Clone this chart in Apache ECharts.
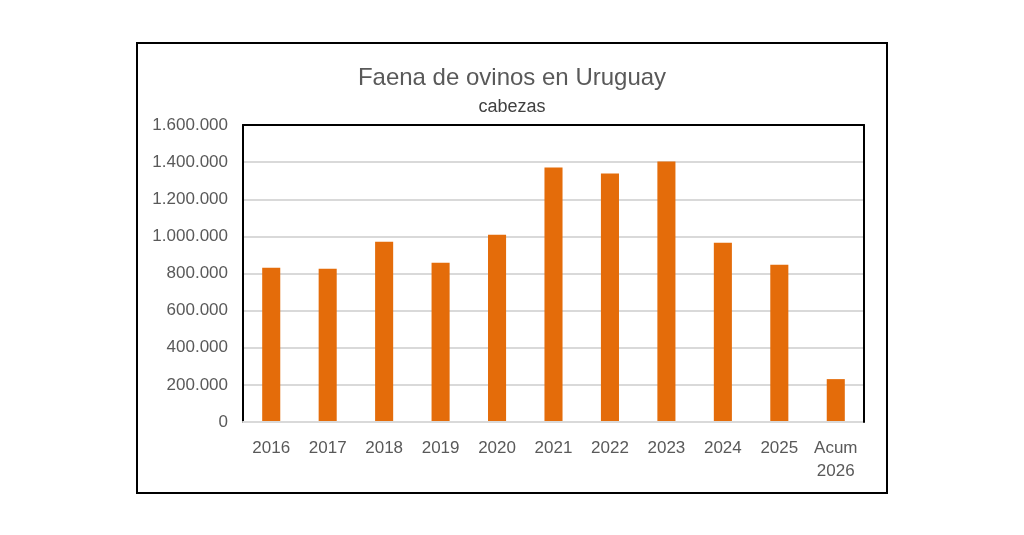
<!DOCTYPE html>
<html>
<head>
<meta charset="utf-8">
<title>Faena de ovinos en Uruguay</title>
<script src="https://cdn.jsdelivr.net/npm/echarts@6/dist/echarts.min.js"></script>
<style>
    html,body{margin:0;padding:0;background:#fff;}
    #main{width:1024px;height:535px;}
</style>
</head>
<body>
<div id="main"></div>
<script>
//年份
var categories = ['2016','2017','2018','2019','2020','2021','2022','2023','2024','2025','Acum\n2026'];
//头数
var cabezas = [831000, 825000, 971000, 858000, 1009000, 1371000, 1339000, 1404000, 966000, 847000, 231000];
var yTicks = [0, 200000, 400000, 600000, 800000, 1000000, 1200000, 1400000, 1600000];

//千位用点分隔
function fmtNum(v){
    return String(v).replace(/\B(?=(\d{3})+(?!\d))/g, '.');
}

var myChart = echarts.init(document.getElementById('main'));

var option = {
    backgroundColor: '#fff',
    animation: false,
    title: {
        text: 'Faena de ovinos en Uruguay',
        subtext: 'cabezas',
        left: 'center',
        top: 61,
        itemGap: 8,
        textStyle: {
            fontFamily: 'Liberation Sans',
            fontSize: 24,
            fontWeight: 'normal',
            color: '#595959'
        },
        subtextStyle: {
            fontFamily: 'Liberation Sans',
            fontSize: 18,
            color: '#404040'
        }
    },
    graphic: [{
        type: 'rect',
        shape: {x: 137, y: 43, width: 750, height: 450},
        style: {fill: 'none', stroke: '#000', lineWidth: 2},
        silent: true
    }],
    grid: {
        left: 243,
        right: 160,
        top: 125,
        bottom: 113
    },
    xAxis: [{
        type: 'category',
        data: categories,
        z: 3,
        axisTick: {show: false},
        axisLine: {show: true, lineStyle: {color: '#d9d9d9', width: 2}},
        axisLabel: {
            margin: 15,
            fontFamily: 'Liberation Sans',
            fontSize: 17,
            lineHeight: 23,
            color: '#595959',
            interval: 0
        }
    },{
        //上边框
        type: 'category',
        position: 'top',
        data: categories,
        z: 5,
        axisTick: {show: false},
        axisLabel: {show: false},
        axisLine: {show: true, onZero: false, lineStyle: {color: '#000', width: 2}}
    }],
    yAxis: [{
        type: 'value',
        min: yTicks[0],
        max: yTicks[yTicks.length-1],
        interval: 200000,
        axisLine: {show: true, lineStyle: {color: '#000', width: 2}},
        axisTick: {show: false},
        splitLine: {lineStyle: {color: '#d9d9d9', width: 2}},
        axisLabel: {
            margin: 15,
            fontFamily: 'Liberation Sans',
            fontSize: 17,
            color: '#595959',
            formatter: function(v){ return fmtNum(v); }
        }
    },{
        //右边框
        type: 'value',
        position: 'right',
        min: yTicks[0],
        max: yTicks[yTicks.length-1],
        interval: 200000,
        z: 5,
        axisLine: {show: true, onZero: false, lineStyle: {color: '#000', width: 2}},
        axisTick: {show: false},
        axisLabel: {show: false},
        splitLine: {show: false}
    }],
    series: [{
        name: 'cabezas',
        type: 'bar',
        data: cabezas,
        barWidth: '32%',
        itemStyle: {color: '#E46C0A'}
    }]
};

myChart.setOption(option);
</script>
</body>
</html>
